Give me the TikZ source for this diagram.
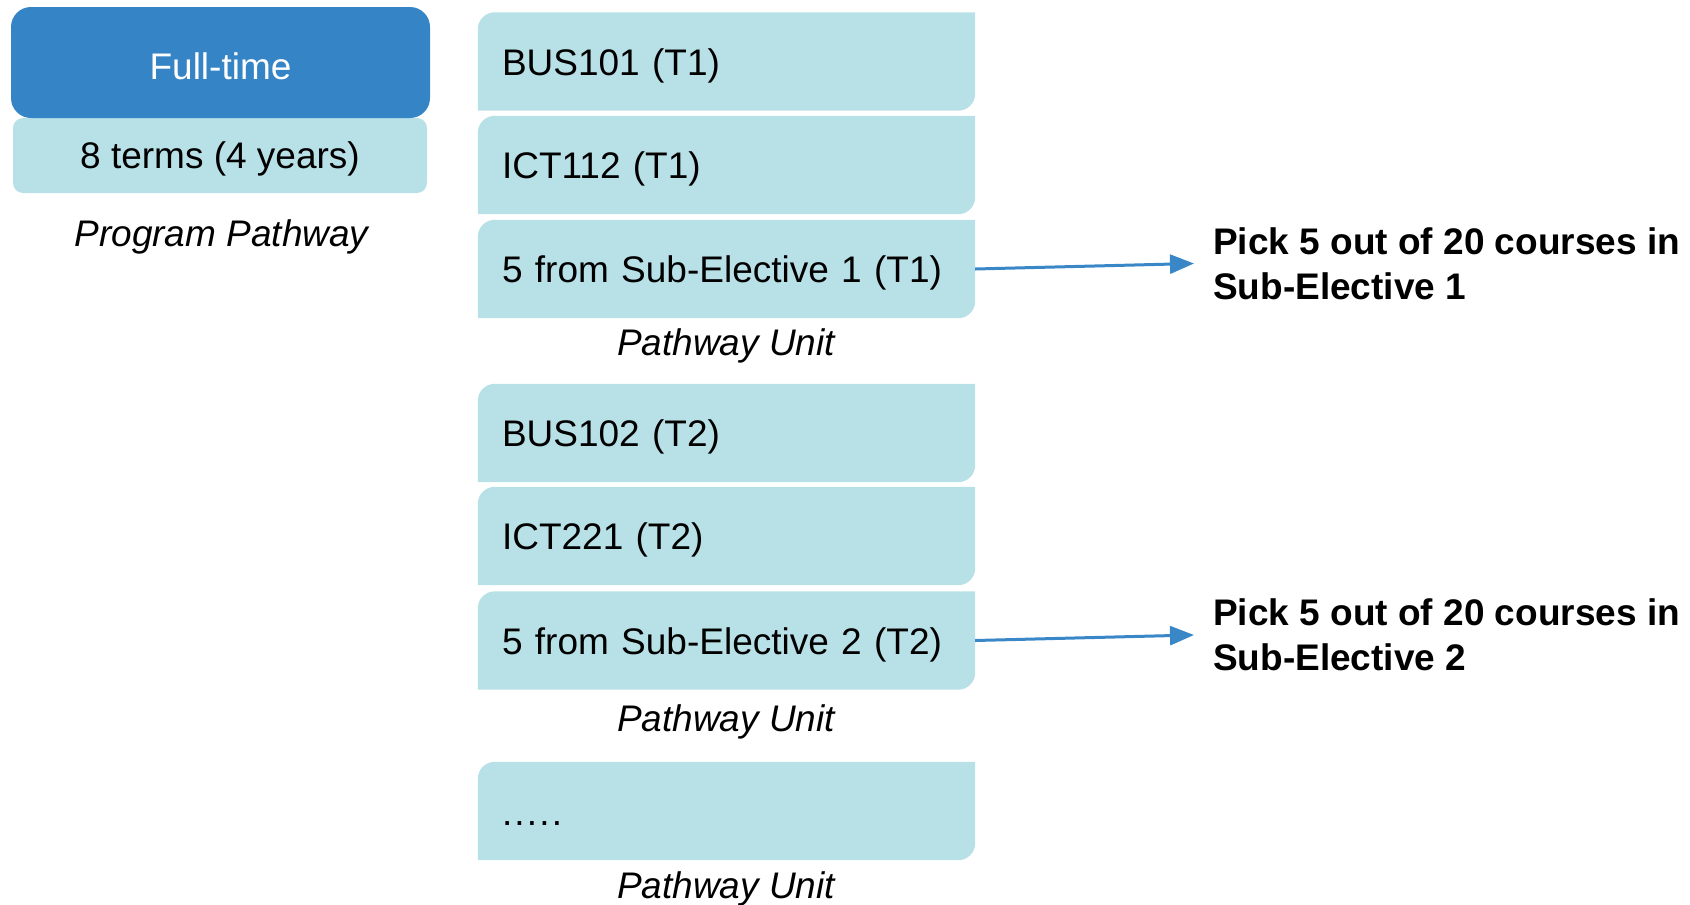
\documentclass[tikz,border=0pt]{standalone}
\usepackage{fontspec}
\setmainfont{Liberation Sans}
\usetikzlibrary{arrows.meta,backgrounds}
\definecolor{darkb}{RGB}{53,132,198}
\definecolor{lightb}{RGB}{184,224,231}
\definecolor{arrb}{RGB}{58,135,200}
\tikzset{
  unitbox/.style={minimum width=497pt, minimum height=98pt, inner sep=0pt,
    text width=449pt, align=left, text height=35pt, text depth=7.8pt,
    font=\fontsize{37}{44}\selectfont},
  fulltime/.style={fill=darkb, rounded corners=20pt, minimum width=419pt, minimum height=111pt,
    text=white, text height=33pt, text depth=0pt, font=\fontsize{37}{44}\selectfont},
  termsbox/.style={fill=lightb, rounded corners=10pt, minimum width=414pt, minimum height=75pt,
    text height=33.5pt, text depth=7.8pt, font=\fontsize{37}{44}\selectfont},
  caption/.style={font=\fontsize{37}{44}\selectfont\itshape},
  picktext/.style={anchor=west, align=left, inner sep=0pt, font=\fontsize{37}{45}\selectfont\bfseries},
  arr/.style={draw=arrb, line width=3pt, -{Triangle[length=24pt,width=19pt]}}
}
\newcommand{\unitfill}[1]{%
  \fill[lightb] (#1.south west) -- ([yshift=-17pt]#1.north west)
    arc[start angle=180, end angle=90, radius=17pt] -- (#1.north east)
    -- ([yshift=17pt]#1.south east)
    arc[start angle=0, end angle=-90, radius=17pt] -- cycle;
}
\begin{document}
\begin{tikzpicture}[x=1pt,y=-1pt]
\useasboundingbox (0,0) rectangle (1690,905);
% left column
\node[termsbox] (terms) at (220,155.5) {8 terms (4 years)};
\node[fulltime] (ft) at (220.5,62.5) {Full-time};
\node[caption] (pp) at (221.5,236.5) {Program Pathway};
% unit boxes
\node[unitbox] (u1) at (726.5,61.5) {BUS101 (T1)};
\node[unitbox] (u2) at (726.5,165) {ICT112 (T1)};
\node[unitbox] (u3) at (726.5,269) {5 from Sub-Elective 1 (T1)};
\node[caption] (pu1) at (726,345.5) {Pathway Unit};
\node[unitbox] (u4) at (726.5,433) {BUS102 (T2)};
\node[unitbox] (u5) at (726.5,536) {ICT221 (T2)};
\node[unitbox] (u6) at (726.5,640.5) {5 from Sub-Elective 2 (T2)};
\node[caption] (pu2) at (726,721.5) {Pathway Unit};
\node[unitbox, text height=0pt, text depth=0pt] (u7) at (726.5,811)
  {\raisebox{-14pt}[0pt][0pt]{.\hspace{2.2pt}.\hspace{2.2pt}.\hspace{2.2pt}.\hspace{2.2pt}.}};
\node[caption] (pu3) at (726,889) {Pathway Unit};
\begin{scope}[on background layer]
  \unitfill{u1}\unitfill{u2}\unitfill{u3}\unitfill{u4}\unitfill{u5}\unitfill{u6}\unitfill{u7}
\end{scope}
% pick texts
\node[picktext] (p1) at (1213,263.5) {Pick 5 out of 20 courses in\\Sub-Elective 1};
\node[picktext] (p2) at (1213,635) {Pick 5 out of 20 courses in\\Sub-Elective 2};
\draw[arr] (u3.east) -- ([xshift=-19pt]p1.west);
\draw[arr] (u6.east) -- ([xshift=-19pt]p2.west);
\end{tikzpicture}
\end{document}
